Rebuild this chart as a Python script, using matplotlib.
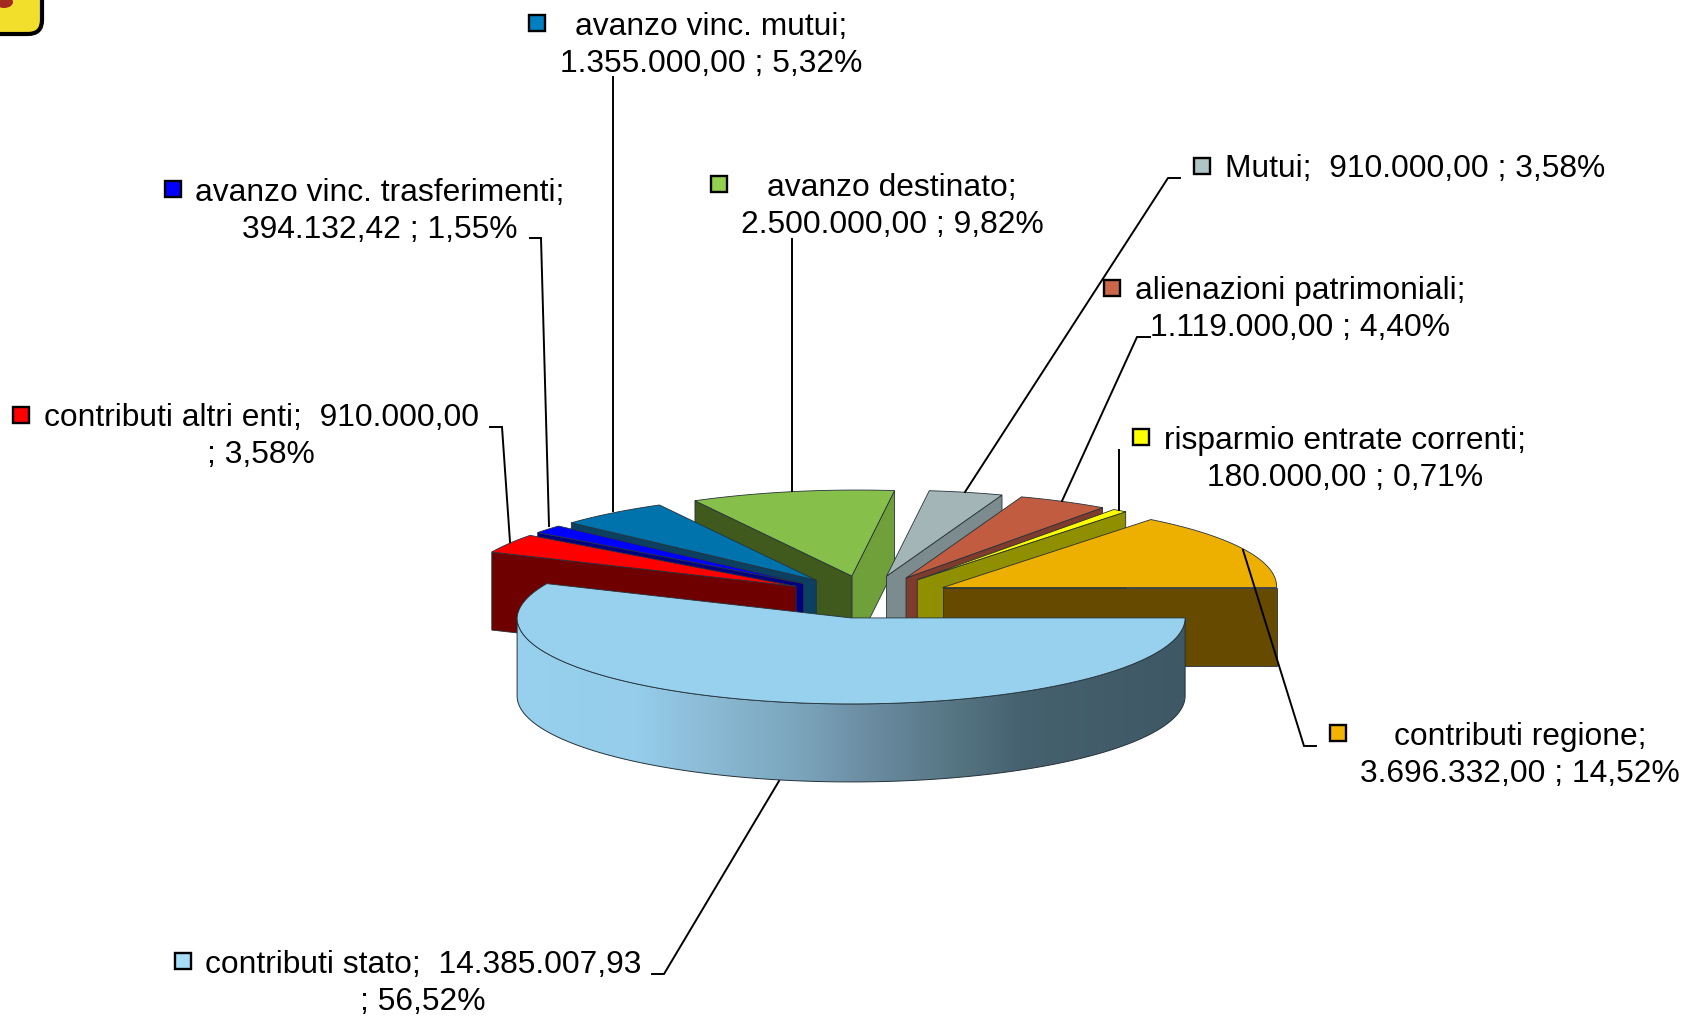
import numpy as np
import matplotlib
matplotlib.use("Agg")
import matplotlib.pyplot as plt
from matplotlib.patches import Polygon, FancyBboxPatch, Ellipse
from matplotlib.colors import LinearSegmentedColormap

plt.rcParams['font.family'] = ['Liberation Sans', 'DejaVu Sans']

# slices, counter clockwise starting from east
names = ["contributi regione", "risparmio entrate correnti", "alienazioni patrimoniali", "Mutui",
         "avanzo destinato", "avanzo vinc. mutui", "avanzo vinc. trasferimenti", "contributi altri enti",
         "contributi stato"]
values = [3696332.00, 180000.00, 1119000.00, 910000.00, 2500000.00, 1355000.00, 394132.42, 910000.00, 14385007.93]
label_lines = [
    ["contributi regione;", "3.696.332,00 ; 14,52%"],
    ["risparmio entrate correnti;", "180.000,00 ; 0,71%"],
    ["alienazioni patrimoniali;", "1.119.000,00 ; 4,40%"],
    ["Mutui;  910.000,00 ; 3,58%"],
    ["avanzo destinato;", "2.500.000,00 ; 9,82%"],
    ["avanzo vinc. mutui;", "1.355.000,00 ; 5,32%"],
    ["avanzo vinc. trasferimenti;", "394.132,42 ; 1,55%"],
    ["contributi altri enti;  910.000,00", "; 3,58%"],
    ["contributi stato;  14.385.007,93", "; 56,52%"],
]

top_colors = ["#EDB000", "#FFFF00", "#C25C40", "#A3B5B6", "#86C04A", "#0072AC", "#0000FF", "#FF0000", "#97D1EE"]
side_colors = ["#664A00", "#8F8F00", "#7F3B2B", "#7C8C8E", "#3F5A1C", "#0B4060", "#000080", "#6E0000", "#97D1EE"]
key_colors = ["#F3B400", "#FFFF00", "#CC6648", "#AEC4C5", "#92D050", "#0080C0", "#0000FF", "#FF0000", "#A8DDF8"]
green_right_side = "#6FA03A"

# picture is laid out in pixels
W, H = 1685, 1016
CX, CY = 868, 597
R, RY = 334, 86
DEPTH = 78
EXPL = 83
SHEAR = 0.06
draw_order = [4, 3, 2, 1, 0, 5, 6, 7, 8]

# label text centre + first baseline, key square centre
label_pos = [(1520, 745), (1345, 449), (1300, 299), (1415, 177), (892, 196), (711, 35), (380, 201), (261, 426), (423, 973)]
key_pos = [(1338, 733), (1141, 437), (1112, 288), (1202, 166), (719, 184), (537, 23), (173, 189), (21, 415), (183, 961)]

leaders = [
    [(1243, 550), (1304, 746), (1316, 746)],
    [(1119, 510), (1119, 450)],
    [(1062, 501), (1137, 337), (1150, 337)],
    [(965, 492), (1168, 178), (1180, 178)],
    [(792, 491), (792, 239)],
    [(613, 511), (613, 77)],
    [(549, 526), (541, 238), (530, 238)],
    [(510, 542), (502, 427), (490, 427)],
    [(779, 781), (664, 974), (652, 974)],
]


def project(cx, cy, ang):
    up = RY * np.sin(ang)
    return cx + R * np.cos(ang) + SHEAR * np.maximum(up, 0), cy - up


fig = plt.figure(figsize=(W / 100, H / 100), dpi=100)
ax = fig.add_axes([0, 0, 1, 1])
ax.set_xlim(0, W)
ax.set_ylim(H, 0)
ax.axis("off")

shares = np.array(values) / np.sum(values)
edges = np.concatenate([[0], np.cumsum(shares)]) * 2 * np.pi

gradient = LinearSegmentedColormap.from_list("rim", [(0, "#97D1EE"), (0.18, "#95CDEA"), (0.27, "#8DBDD8"),
                                                     (0.42, "#7BA5BC"), (0.51, "#6E90A6"), (0.66, "#557482"),
                                                     (0.76, "#45606E"), (1, "#3F5866")])

z = 2
for i in draw_order:
    a0, a1 = edges[i], edges[i + 1]
    mid = (a0 + a1) / 2
    cx = CX + EXPL * np.cos(mid)
    cy = CY - EXPL * RY / R * np.sin(mid)
    edge = "#26323a"

    # cut faces, only the ones turned to the viewer
    for ang, visible in ((a0, np.cos(a0) > 0 and i != 8), (a1, np.cos(a1) < 0)):
        if visible:
            x, y = project(cx, cy, ang)
            col = green_right_side if (i == 4 and ang == a0) else side_colors[i]
            ax.add_patch(Polygon([(cx, cy), (x, y), (x, y + DEPTH), (cx, cy + DEPTH)], closed=True,
                                 facecolor=col, edgecolor=edge, linewidth=0.6, zorder=z))
            z += 1

    # front rim
    lo, hi = max(a0, np.pi), min(a1, 2 * np.pi)
    if hi > lo:
        t = np.linspace(lo, hi, 200)
        x, y = project(cx, cy, t)
        pts = np.column_stack([np.r_[x, x[::-1]], np.r_[y, y[::-1] + DEPTH]])
        rim = Polygon(pts, closed=True, facecolor="none", edgecolor=edge, linewidth=0.7, zorder=z + 1,
                      transform=ax.transData)
        im = ax.imshow(np.linspace(0, 1, 256)[None, :], extent=[x.min(), x.max(), y.max() + DEPTH, y.min()],
                       cmap=gradient, aspect="auto", zorder=z)
        im.set_clip_path(rim)
        ax.add_patch(rim)
        z += 2

    # top face
    t = np.linspace(a0, a1, 200)
    x, y = project(cx, cy, t)
    pts = np.vstack([[cx, cy], np.column_stack([x, y])])
    ax.add_patch(Polygon(pts, closed=True, facecolor=top_colors[i], edgecolor=edge, linewidth=0.6, zorder=z))
    z += 1

ax.set_xlim(0, W)
ax.set_ylim(H, 0)

for pts in leaders:
    pts = np.array(pts)
    ax.plot(pts[:, 0], pts[:, 1], color="black", linewidth=1.4, zorder=z, solid_joinstyle="miter")

for i in range(len(names)):
    xc, base = label_pos[i]
    for k, line in enumerate(label_lines[i]):
        ax.text(xc, base + 37 * k, line, fontsize=22.85, ha="center", va="baseline", color="black", zorder=z + 1)
    ax.plot(*key_pos[i], marker="s", markersize=12, markerfacecolor=key_colors[i], markeredgecolor="black",
            markeredgewidth=1.7, linestyle="none", zorder=z + 1)

# badge cut by the top left corner
ax.add_patch(FancyBboxPatch((-40, -40), 82, 74, boxstyle="round,pad=0,rounding_size=14", clip_on=True,
                            mutation_aspect=1, facecolor="#F2DF2B", edgecolor="black", linewidth=3, zorder=z))
ax.add_patch(Ellipse((4, 2), 18, 12, facecolor="#A32A20", edgecolor="none", zorder=z + 1))

fig.savefig("out.png", dpi=100, facecolor="white")
